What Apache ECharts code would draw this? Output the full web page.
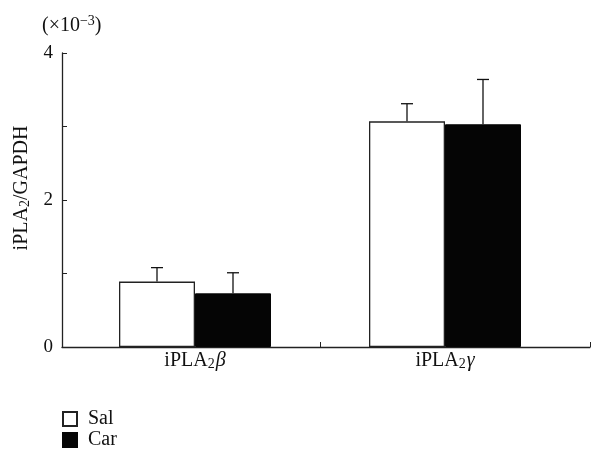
<!DOCTYPE html>
<html>
<head>
<meta charset="utf-8">
<script src="https://cdn.jsdelivr.net/npm/echarts@6/dist/echarts.min.js"></script>
<style>
  html, body { margin: 0; padding: 0; background: #fff; }
  #chart { width: 591px; height: 456px; }
</style>
</head>
<body>
<div id="chart"></div>
<script>
// 数据
var categories = ['β', 'γ'];        // iPLA2β, iPLA2γ
var positions = [1, 2];             // 类别在x轴上的位置
var salMean = [0.89, 3.07];
var salErr = [0.19, 0.24];
var carMean = [0.73, 3.03];
var carErr = [0.28, 0.61];
var yTicks = [0, 2, 4];

var FONT = '"Liberation Serif", "DejaVu Serif", serif';
var BAR_W = 76;

var myChart = echarts.init(document.getElementById('chart'));

function pairs(vals) {
    return vals.map(function(v, i) { return [positions[i], v]; });
}
function errData(mean, err) {
    return mean.map(function(v, i) { return [positions[i], v, err[i]]; });
}
// 误差线（只画上半部分）
function errRender(offset) {
    return function(params, api) {
        var base = api.coord([api.value(0), api.value(1)]);
        var top = api.coord([api.value(0), api.value(1) + api.value(2)]);
        var x = base[0] + offset;
        var style = { stroke: '#111', lineWidth: 1.3 };
        return {
            type: 'group',
            children: [
                { type: 'line', shape: { x1: x, y1: base[1], x2: x, y2: top[1] }, style: style },
                { type: 'line', shape: { x1: x - 6, y1: top[1], x2: x + 6, y2: top[1] }, style: style }
            ]
        };
    };
}

var legendText = { fontFamily: FONT, fontSize: 20, color: '#111', padding: [0, 0, 0, 6] };

var option = {
    animation: false,
    textStyle: { fontFamily: FONT },
    title: {
        text: '(×10{sup|−3})',
        left: 42,
        top: 14,
        padding: 0,
        textStyle: {
            fontFamily: FONT, fontSize: 20, fontWeight: 'normal', color: '#111',
            rich: { sup: { fontFamily: FONT, fontSize: 14, verticalAlign: 'top', padding: [0, 0, 9, 0], color: '#111' } }
        }
    },
    grid: { left: 62, right: 1, top: 53, bottom: 109 },
    legend: [
        {
            left: 62, top: 409, padding: 0, itemWidth: 14, itemHeight: 14, icon: 'rect',
            textStyle: legendText, data: ['Sal']
        },
        {
            left: 62, top: 430, padding: 0, itemWidth: 14, itemHeight: 14, icon: 'rect',
            textStyle: legendText, data: ['Car']
        }
    ],
    xAxis: {
        type: 'value',
        min: 0.468,
        max: 2.58,
        splitLine: { show: false },
        axisLine: { lineStyle: { color: '#222', width: 1.3 } },
        axisTick: { show: true, inside: true, length: 5, customValues: [1.5, 2.58], lineStyle: { color: '#222' } },
        axisLabel: {
            customValues: positions,
            margin: 3,
            formatter: function(v) {
                var i = positions.indexOf(v);
                return '{n|iPLA}{s|2}{g|' + categories[i] + '}';
            },
            rich: {
                n: { fontFamily: FONT, fontSize: 20, color: '#111' },
                s: { fontFamily: FONT, fontSize: 14, color: '#111', verticalAlign: 'bottom', padding: [7, 1, 0, 0] },
                g: { fontFamily: FONT, fontSize: 20, fontStyle: 'italic', color: '#111' }
            }
        }
    },
    yAxis: {
        type: 'value',
        min: 0,
        max: 4,
        interval: 1,
        name: '{n|iPLA}{s|2}{n|/GAPDH}',
        nameLocation: 'middle',
        nameGap: 27,
        nameTextStyle: {
            padding: [0, 0, 0, 24],
            rich: {
                n: { fontFamily: FONT, fontSize: 20, color: '#111' },
                s: { fontFamily: FONT, fontSize: 14, color: '#111', verticalAlign: 'bottom', padding: [7, 0, 0, 0] }
            }
        },
        splitLine: { show: false },
        axisLine: { show: true, lineStyle: { color: '#222', width: 1.3 } },
        axisTick: { show: true, inside: true, length: 5, lineStyle: { color: '#222' } },
        axisLabel: {
            fontFamily: FONT, fontSize: 19, color: '#111', margin: 9,
            formatter: function(v) { return yTicks.indexOf(v) >= 0 ? String(v) : ''; }
        }
    },
    series: [
        {
            name: 'Sal', type: 'bar', barWidth: BAR_W, barGap: '0%',
            itemStyle: { color: '#fff', borderColor: '#222', borderWidth: 1.3 },
            data: pairs(salMean)
        },
        {
            name: 'Car', type: 'bar', barWidth: BAR_W, barGap: '0%',
            itemStyle: { color: '#050505', borderColor: '#050505', borderWidth: 1 },
            data: pairs(carMean)
        },
        {
            type: 'custom', renderItem: errRender(-BAR_W / 2), z: 3,
            data: errData(salMean, salErr), silent: true
        },
        {
            type: 'custom', renderItem: errRender(BAR_W / 2), z: 3,
            data: errData(carMean, carErr), silent: true
        }
    ]
};

myChart.setOption(option);
</script>
</body>
</html>
